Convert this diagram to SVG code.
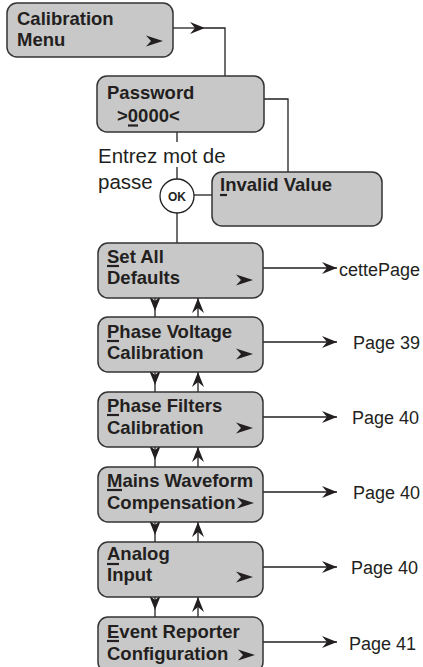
<svg xmlns="http://www.w3.org/2000/svg" width="423" height="667" viewBox="0 0 423 667">
<style>
.box{fill:#c8c8c8;stroke:#333;stroke-width:1.5}
.t{font-family:"Liberation Sans",Arial,sans-serif;font-size:18.5px;font-weight:bold;fill:#231f20}
.r{font-family:"Liberation Sans",Arial,sans-serif;font-size:18px;fill:#231f20}
.ln{fill:none;stroke:#231f20;stroke-width:1.3}
.ul{stroke:#231f20;stroke-width:2.2}
.ch{fill:#231f20}
</style>
<defs>
<marker id="ah" markerUnits="userSpaceOnUse" markerWidth="20" markerHeight="16" viewBox="-18 -8 20 16" refX="0" refY="0" orient="auto">
<path d="M0,0 L-15,-6 L-10,0 L-15,6 Z" fill="#231f20"/>
</marker>
</defs>
<rect width="423" height="667" fill="#fff"/>
<g id="connectors">
<path class="ln" d="M173,28 H205" marker-end="url(#ah)"/>
<path class="ln" d="M205,28 H225 V76"/>
<path class="ln" d="M264,99 H288 V172"/>
<path class="ln" d="M177,132 V142"/>
<path class="ln" d="M177,167 V179"/>
<path class="ln" d="M194,195 H212"/>
<path class="ln" d="M177,213 V243"/>
<path class="ln" d="M263,268 H337" marker-end="url(#ah)"/>
<path class="ln" d="M263,342 H337" marker-end="url(#ah)"/>
<path class="ln" d="M263,417 H337" marker-end="url(#ah)"/>
<path class="ln" d="M263,492 H337" marker-end="url(#ah)"/>
<path class="ln" d="M263,567 H337" marker-end="url(#ah)"/>
<path class="ln" d="M263,642 H337" marker-end="url(#ah)"/>
<path class="ln" d="M155,298 V311" marker-end="url(#ah)"/>
<path class="ln" d="M155,311 V317"/>
<path class="ln" d="M198,317 V298" marker-end="url(#ah)"/>
<path class="ln" d="M155,372 V385" marker-end="url(#ah)"/>
<path class="ln" d="M155,385 V392"/>
<path class="ln" d="M198,392 V372" marker-end="url(#ah)"/>
<path class="ln" d="M155,447 V460" marker-end="url(#ah)"/>
<path class="ln" d="M155,460 V467"/>
<path class="ln" d="M198,467 V447" marker-end="url(#ah)"/>
<path class="ln" d="M155,522 V535" marker-end="url(#ah)"/>
<path class="ln" d="M155,535 V542"/>
<path class="ln" d="M198,542 V522" marker-end="url(#ah)"/>
<path class="ln" d="M155,597 V610" marker-end="url(#ah)"/>
<path class="ln" d="M155,610 V617"/>
<path class="ln" d="M198,617 V597" marker-end="url(#ah)"/>
</g>
<g id="calibration-menu">
<rect class="box" x="7" y="3" width="166" height="54" rx="10"/>
<text class="t" x="17" y="25">Calibration</text>
<text class="t" x="17" y="46">Menu</text>
<polygon class="ch" points="146,35.5 163,41 146,46.5 151,41"/>
</g>
<g id="password">
<rect class="box" x="97" y="76" width="167" height="56" rx="10"/>
<text class="t" x="107" y="99">Password</text>
<text class="t" x="117" y="122">&gt;0000&lt;</text>
<line class="ul" x1="128" y1="125.5" x2="138" y2="125.5"/>
</g>
<g id="entrez">
<text class="r" x="98" y="163" style="font-size:20.5px">Entrez mot de</text>
<text class="r" x="98" y="189" style="font-size:20.5px">passe</text>
</g>
<g id="ok">
<circle cx="177" cy="196" r="17" fill="#fff" stroke="#231f20" stroke-width="1.3"/>
<text class="t" x="177" y="200.5" style="font-size:12px" text-anchor="middle">OK</text>
</g>
<g id="invalid-value">
<rect class="box" x="212" y="172" width="170" height="54" rx="10"/>
<text class="t" x="220" y="191">Invalid Value</text>
<line class="ul" x1="220" y1="195" x2="227" y2="195"/>
</g>
<g id="set-all-defaults">
<rect class="box" x="98" y="243" width="165" height="55" rx="10"/>
<text class="t" x="107" y="263">Set All</text>
<text class="t" x="107" y="284">Defaults</text>
<line class="ul" x1="107" y1="266" x2="119" y2="266"/>
<polygon class="ch" points="236,274.5 253,280 236,285.5 241,280"/>
</g>
<g id="phase-voltage">
<rect class="box" x="98" y="317" width="165" height="55" rx="10"/>
<text class="t" x="107" y="338">Phase Voltage</text>
<text class="t" x="107" y="359">Calibration</text>
<line class="ul" x1="107" y1="341" x2="119" y2="341"/>
<polygon class="ch" points="236,348.5 253,354 236,359.5 241,354"/>
</g>
<g id="phase-filters">
<rect class="box" x="98" y="392" width="165" height="55" rx="10"/>
<text class="t" x="107" y="412">Phase Filters</text>
<text class="t" x="107" y="434">Calibration</text>
<line class="ul" x1="107" y1="415" x2="119" y2="415"/>
<polygon class="ch" points="236,422.5 253,428 236,433.5 241,428"/>
</g>
<g id="mains-waveform">
<rect class="box" x="98" y="467" width="165" height="55" rx="10"/>
<text class="t" x="107" y="487">Mains Waveform</text>
<text class="t" x="107" y="509">Compensation</text>
<line class="ul" x1="107" y1="490" x2="122" y2="490"/>
<polygon class="ch" points="237,497.5 254,503 237,508.5 242,503"/>
</g>
<g id="analog-input">
<rect class="box" x="98" y="542" width="165" height="55" rx="10"/>
<text class="t" x="107" y="560">Analog</text>
<text class="t" x="107" y="581">Input</text>
<line class="ul" x1="107" y1="564" x2="119" y2="564"/>
<polygon class="ch" points="236,571.5 253,577 236,582.5 241,577"/>
</g>
<g id="event-reporter">
<rect class="box" x="98" y="617" width="165" height="55" rx="10"/>
<text class="t" x="107" y="638">Event Reporter</text>
<text class="t" x="107" y="660">Configuration</text>
<line class="ul" x1="107" y1="641" x2="119" y2="641"/>
<polygon class="ch" points="238,649.5 255,655 238,660.5 243,655"/>
</g>
<g id="labels">
<text class="r" x="339" y="276">cettePage</text>
<text class="r" x="353" y="349">Page 39</text>
<text class="r" x="352" y="424">Page 40</text>
<text class="r" x="353" y="499">Page 40</text>
<text class="r" x="351" y="574">Page 40</text>
<text class="r" x="349" y="650">Page 41</text>
</g>
</svg>
